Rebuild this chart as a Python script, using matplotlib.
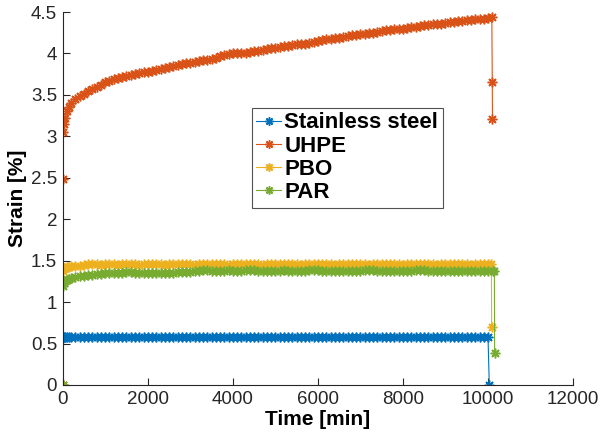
import matplotlib.pyplot as plt

plt.rcParams['font.family'] = ['Liberation Sans', 'DejaVu Sans']

# tempo comum [min]
tempo = [0, 5, 15, 30, 50, 100, 150, 200,
         300, 400, 500, 600, 700, 800, 900, 1000, 1100, 1200, 1300, 1400,
         1500, 1600, 1700, 1800, 1900, 2000, 2100, 2200, 2300, 2400,
         2500, 2600, 2700, 2800, 2900, 3000, 3100, 3200, 3300, 3400,
         3500, 3600, 3700, 3800, 3900, 4000, 4100, 4200, 4300, 4400,
         4500, 4600, 4700, 4800, 4900, 5000, 5100, 5200, 5300, 5400,
         5500, 5600, 5700, 5800, 5900, 6000, 6100, 6200, 6300, 6400,
         6500, 6600, 6700, 6800, 6900, 7000, 7100, 7200, 7300, 7400,
         7500, 7600, 7700, 7800, 7900, 8000, 8100, 8200, 8300, 8400,
         8500, 8600, 8700, 8800, 8900, 9000, 9100, 9200, 9300, 9400,
         9500, 9600, 9700, 9800, 9900, 10000]

inox = [0, 0.57, 0.58, 0.58, 0.58, 0.58, 0.58, 0.58,
        0.58, 0.58, 0.58, 0.58, 0.58, 0.58, 0.58, 0.58, 0.58, 0.58, 0.58, 0.58,
        0.58, 0.58, 0.58, 0.58, 0.58, 0.58, 0.58, 0.58, 0.58, 0.58,
        0.58, 0.58, 0.58, 0.58, 0.58, 0.58, 0.58, 0.58, 0.58, 0.58,
        0.58, 0.58, 0.58, 0.58, 0.58, 0.58, 0.58, 0.58, 0.58, 0.58,
        0.58, 0.58, 0.58, 0.58, 0.58, 0.58, 0.58, 0.58, 0.58, 0.58,
        0.58, 0.58, 0.58, 0.58, 0.58, 0.58, 0.58, 0.58, 0.58, 0.58,
        0.58, 0.58, 0.58, 0.58, 0.58, 0.58, 0.58, 0.58, 0.58, 0.58,
        0.58, 0.58, 0.58, 0.58, 0.58, 0.58, 0.58, 0.58, 0.58, 0.58,
        0.58, 0.58, 0.58, 0.58, 0.58, 0.58, 0.58, 0.58, 0.58, 0.58,
        0.58, 0.58, 0.58, 0.58, 0.58, 0.58]

uhpe = [0, 2.48, 3.05, 3.15, 3.22, 3.30, 3.36, 3.40,
        3.45, 3.49, 3.51, 3.55, 3.57, 3.60, 3.62, 3.65, 3.67, 3.69, 3.70, 3.71,
        3.73, 3.74, 3.75, 3.77, 3.78, 3.78, 3.79, 3.80, 3.81, 3.83,
        3.84, 3.85, 3.86, 3.87, 3.88, 3.89, 3.90, 3.91, 3.92, 3.92,
        3.93, 3.95, 3.97, 3.98, 3.99, 4.00, 4.00, 4.01, 4.01, 4.02,
        4.03, 4.03, 4.04, 4.05, 4.06, 4.07, 4.08, 4.09, 4.09, 4.10,
        4.11, 4.12, 4.12, 4.13, 4.14, 4.15, 4.16, 4.17, 4.18, 4.19,
        4.19, 4.20, 4.21, 4.22, 4.22, 4.23, 4.24, 4.25, 4.25, 4.26,
        4.27, 4.28, 4.28, 4.29, 4.30, 4.30, 4.31, 4.32, 4.32, 4.33,
        4.34, 4.34, 4.35, 4.35, 4.36, 4.37, 4.38, 4.38, 4.39, 4.39,
        4.40, 4.40, 4.41, 4.41, 4.42, 4.43]

pbo = [0, 1.38, 1.40, 1.41, 1.41, 1.42, 1.42, 1.43,
       1.43, 1.44, 1.45, 1.455, 1.455, 1.455, 1.45, 1.455, 1.455, 1.455, 1.45, 1.455,
       1.455, 1.455, 1.455, 1.45, 1.455, 1.455, 1.455, 1.455, 1.455, 1.45,
       1.455, 1.455, 1.455, 1.455, 1.455, 1.455, 1.45, 1.455, 1.455, 1.455,
       1.455, 1.455, 1.455, 1.455, 1.45, 1.455, 1.455, 1.455, 1.455, 1.455,
       1.455, 1.455, 1.45, 1.455, 1.455, 1.455, 1.455, 1.455, 1.455, 1.455,
       1.455, 1.45, 1.455, 1.455, 1.455, 1.455, 1.455, 1.455, 1.455, 1.45,
       1.455, 1.455, 1.455, 1.455, 1.455, 1.455, 1.455, 1.45, 1.455, 1.455,
       1.455, 1.455, 1.455, 1.455, 1.455, 1.45, 1.455, 1.455, 1.455, 1.455,
       1.455, 1.455, 1.455, 1.45, 1.455, 1.455, 1.455, 1.455, 1.455, 1.455,
       1.455, 1.45, 1.455, 1.455, 1.455, 1.455]

par = [0, 1.20, 1.23, 1.25, 1.26, 1.27, 1.28, 1.29,
       1.30, 1.31, 1.32, 1.33, 1.33, 1.34, 1.34, 1.35, 1.35, 1.35, 1.35, 1.355,
       1.36, 1.36, 1.355, 1.355, 1.35, 1.35, 1.35, 1.35, 1.35, 1.355,
       1.355, 1.355, 1.36, 1.36, 1.36, 1.365, 1.37, 1.38, 1.385, 1.385,
       1.38, 1.38, 1.38, 1.38, 1.385, 1.38, 1.38, 1.38, 1.385, 1.39,
       1.385, 1.38, 1.38, 1.38, 1.38, 1.38, 1.38, 1.385, 1.38, 1.38,
       1.38, 1.38, 1.38, 1.385, 1.39, 1.385, 1.38, 1.38, 1.38, 1.38,
       1.38, 1.38, 1.38, 1.38, 1.38, 1.38, 1.385, 1.39, 1.385, 1.38,
       1.38, 1.38, 1.38, 1.38, 1.38, 1.38, 1.38, 1.38, 1.385, 1.39,
       1.385, 1.38, 1.38, 1.38, 1.38, 1.38, 1.38, 1.38, 1.38, 1.38,
       1.38, 1.38, 1.38, 1.38, 1.38, 1.38]

# descarga final de cada ensaio
inox_t_fim, inox_fim = [10030], [0.0]
uhpe_t_fim, uhpe_fim = [10090, 10100, 10105], [4.44, 3.65, 3.21]
pbo_t_fim, pbo_fim = [10080, 10085], [1.455, 0.70]
par_t_fim, par_fim = [10120, 10150, 10155], [1.38, 1.38, 0.39]

series = [
    ('Stainless steel', inox, inox_t_fim, inox_fim, '#0072BD'),
    ('UHPE', uhpe, uhpe_t_fim, uhpe_fim, '#D95319'),
    ('PBO', pbo, pbo_t_fim, pbo_fim, '#EDB120'),
    ('PAR', par, par_t_fim, par_fim, '#77AC30'),
]

# asterisco estilo MATLAB (+ e x sobrepostos)
asterisco = (8, 2, 0)

fig = plt.figure(figsize=(6.04, 4.37), dpi=100)
ax = fig.add_axes([0.1038, 0.119, 0.845, 0.8535])

for nome, valores, t_fim, v_fim, cor in series:
    ax.plot(tempo + t_fim, valores + v_fim, '-', marker=asterisco, color=cor,
            label=nome, linewidth=0.8, markersize=7, markeredgewidth=1.1)

ax.set_xlim(0, 12000)
ax.set_ylim(0, 4.5)
ax.set_xticks([0, 2000, 4000, 6000, 8000, 10000, 12000])
ax.set_yticks([0, 0.5, 1, 1.5, 2, 2.5, 3, 3.5, 4, 4.5])
ax.set_yticklabels(['0', '0.5', '1', '1.5', '2', '2.5', '3', '3.5', '4', '4.5'])

for lado in ['top', 'right']:
    ax.spines[lado].set_visible(False)
for lado in ['left', 'bottom']:
    ax.spines[lado].set_color('#262626')
    ax.spines[lado].set_linewidth(0.8)
ax.tick_params(direction='in', length=5, width=0.8, colors='#262626',
               labelsize=13.5, pad=4)

ax.set_xlabel('Time [min]', fontsize=15, fontweight='bold', labelpad=2)
ax.set_ylabel('Strain [%]', fontsize=15, fontweight='bold', labelpad=3)

leg = ax.legend(loc='upper left', bbox_to_anchor=(0.371, 0.7426),
                borderaxespad=0, numpoints=1, fancybox=False,
                prop={'weight': 'bold', 'size': 16}, handlelength=1.1,
                handletextpad=0.15, labelspacing=0.1, borderpad=0.2)
leg.get_frame().set_edgecolor('#262626')
leg.get_frame().set_linewidth(0.8)
for linha in leg.get_lines():
    linha.set_markersize(6)

plt.savefig('out.png', dpi=100)
